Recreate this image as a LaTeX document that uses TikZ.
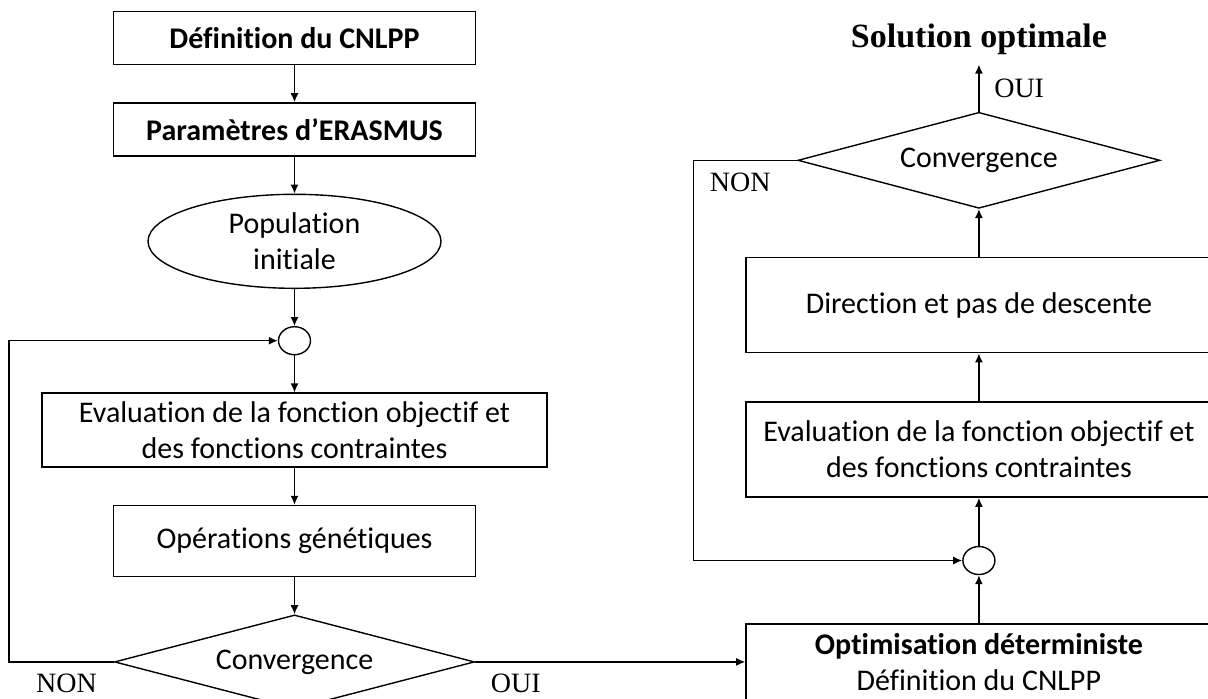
\documentclass[tikz,border=0pt]{standalone}
\usepackage{fontspec}
\setmainfont{Carlito}[Ligatures=NoCommon]
\newfontfamily\labelfont{Liberation Serif}
\usetikzlibrary{arrows.meta, positioning, calc, shapes.geometric}

\begin{document}
\begin{tikzpicture}[
  x=0.5pt, y=-0.5pt,
  every node/.style = {font=\fontsize{15pt}{18pt}\selectfont},
  block/.style = {draw, line width=0.7pt, minimum width=181pt, minimum height=26.5pt, align=center, inner sep=0pt},
  wideblock/.style = {block, minimum width=252.5pt, minimum height=37pt},
  rblock/.style = {block, minimum width=233pt, minimum height=47.5pt},
  startblock/.style = {draw, ellipse, line width=0.7pt, minimum width=146.5pt, minimum height=47pt, align=center, inner sep=0pt},
  junction/.style = {draw, ellipse, line width=0.7pt, minimum width=16pt, minimum height=14pt, inner sep=0pt},
  decision/.style = {draw, diamond, line width=0.7pt, aspect=3.8, minimum width=180pt, minimum height=47pt, inner sep=0pt},
  arrow/.style = {line width=0.7pt, -{Latex[length=4.5pt, width=4pt]}},
  lbl/.style = {font=\labelfont\fontsize{14pt}{16pt}\selectfont},
  node distance=18.5pt and 18.5pt
]
  \useasboundingbox (0,0) rectangle (1208,698);
  \clip (0,0) rectangle (1208,698);

  % ======================================================
  % Genetic part (left column)
  % ======================================================
  \node[block] (defn) at (294.5,38) {\textbf{Définition du CNLPP}};
  \node[block, below=of defn] (param) {\textbf{Paramètres d’ERASMUS}};
  \node[startblock, below=of param] (popinit) {Population\\initiale};
  \node[junction, below=of popinit] (joinL) {};
  \node[wideblock, below=of joinL] (evalL) {Evaluation de la fonction objectif et\\des fonctions contraintes};
  \node[block, minimum height=35.5pt, below=of evalL] (genops) {Opérations génétiques};
  \node[decision, below=of genops] (convL) {Convergence};

  % ======================================================
  % Deterministic part (right column)
  % ======================================================
  \node[rblock, minimum height=38pt, right=135pt of convL] (optdet) {
    \textbf{Optimisation déterministe}\\
    Définition du CNLPP
  };
  \node[junction, above=24pt of optdet] (joinR) {};
  \node[rblock, above=24pt of joinR] (evalR) {Evaluation de la fonction objectif et\\des fonctions contraintes};
  \node[rblock, above=24pt of evalR] (descent) {Direction et pas de descente};
  \node[decision, aspect=3.77, minimum width=181pt, minimum height=48pt, above=24pt of descent] (convR) {Convergence};
  \node[font=\labelfont\bfseries\fontsize{17pt}{20pt}\selectfont, inner sep=4.5pt, above=23.5pt of convR] (solopt) {Solution optimale};

  % left chain
  \draw[arrow] (defn) -- (param);
  \draw[arrow] (param) -- (popinit);
  \draw[arrow] (popinit) -- (joinL);
  \draw[arrow] (joinL) -- (evalL);
  \draw[arrow] (evalL) -- (genops);
  \draw[arrow] (genops) -- (convL);

  % NON loop back to the left junction
  \coordinate[left=52.5pt of convL.west] (loopL);
  \draw[arrow] (convL.west) -- node[lbl, below=2.5pt, pos=0.45] {NON} (loopL) |- (joinL.west);

  % OUI -> deterministic optimisation
  \draw[arrow] (convL.east) -- node[lbl, below=2.5pt, pos=0.15] {OUI} (optdet.west);

  % right chain
  \draw[arrow] (optdet) -- (joinR);
  \draw[arrow] (joinR) -- (evalR);
  \draw[arrow] (evalR) -- (descent);
  \draw[arrow] (descent) -- (convR);
  \draw[arrow] (convR.north) -- node[lbl, right=4pt] {OUI} (solopt.south);

  % NON loop back to the right junction
  \coordinate[left=51.75pt of convR.west] (loopR);
  \draw[arrow] (convR.west) -- node[lbl, below=2.5pt, pos=0.55] {NON} (loopR) |- (joinR.west);

\end{tikzpicture}
\end{document}
